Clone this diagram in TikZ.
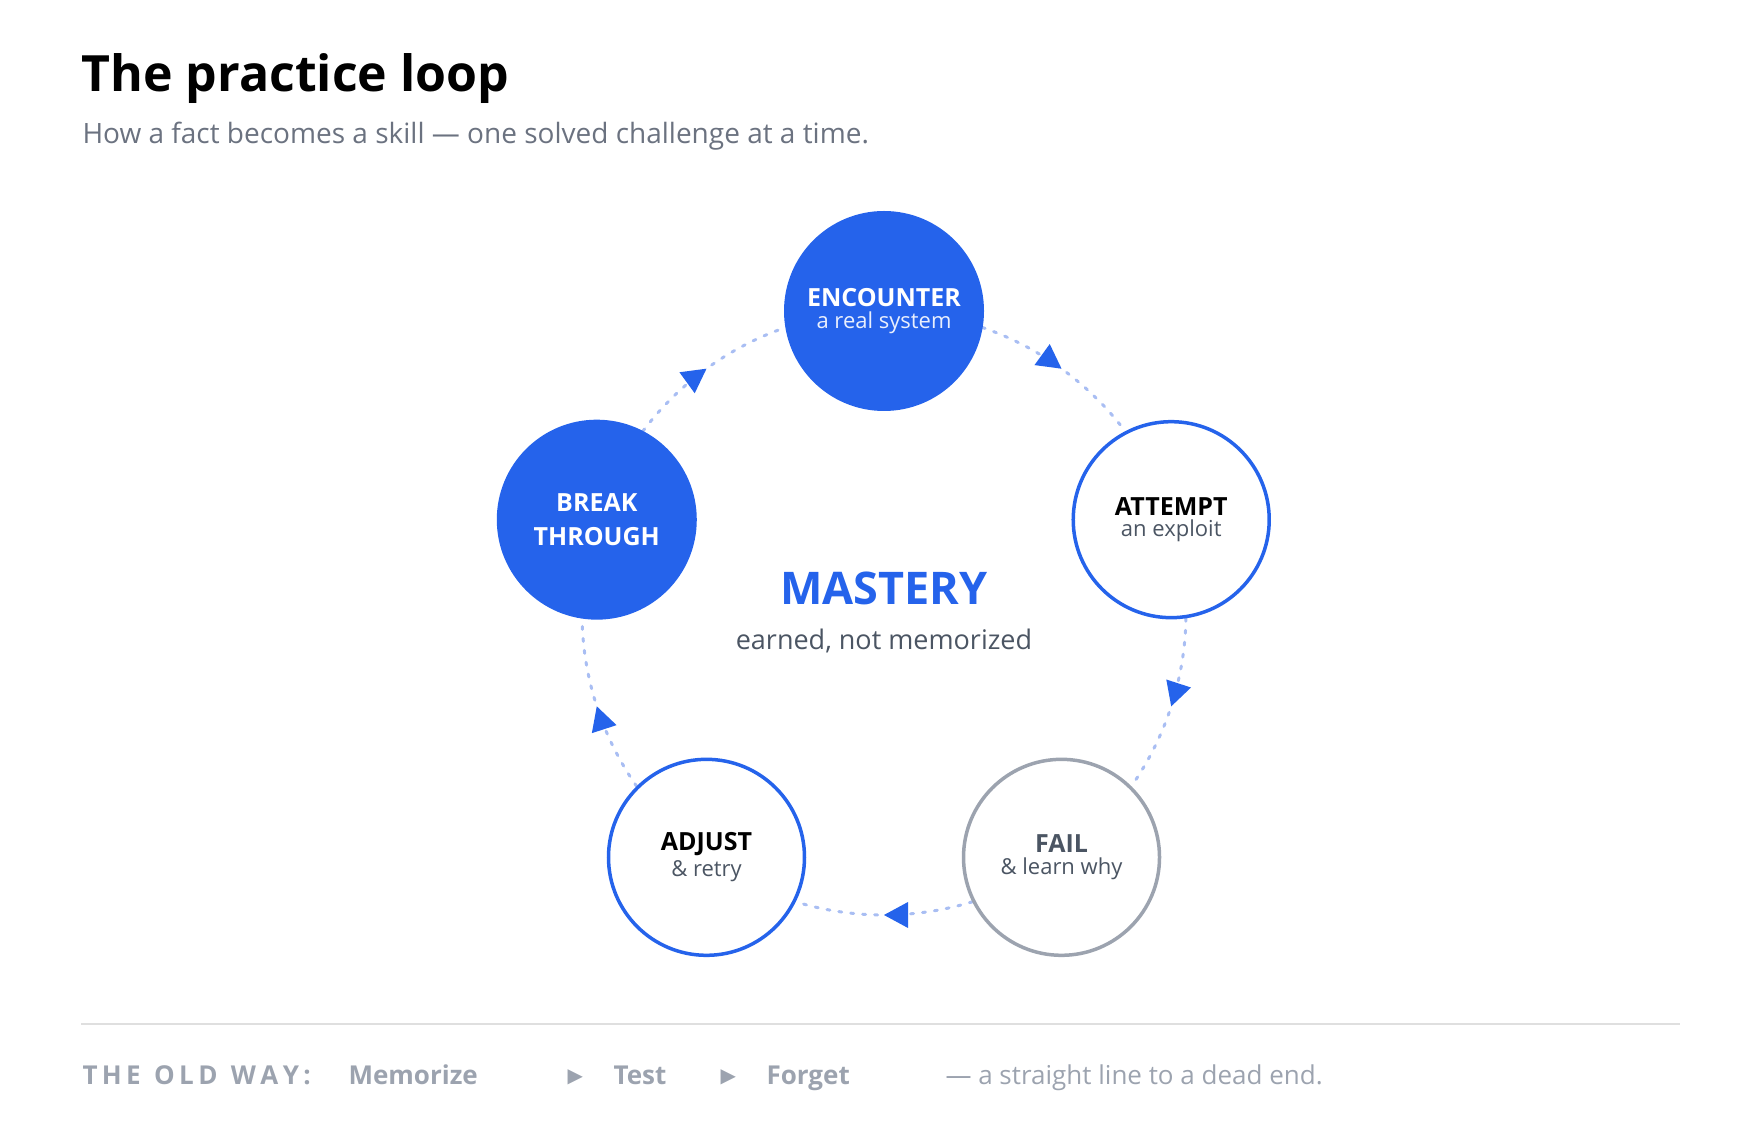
\documentclass[tikz,border=0pt]{standalone}
\usepackage{fontspec}
\setmainfont{Open Sans}
\newfontfamily\dvs{DejaVu Sans}
\usetikzlibrary{arrows.meta,decorations.markings}
\definecolor{blue}{HTML}{2563EB}
\definecolor{lightblue}{HTML}{A9BEF3}
\definecolor{gr}{HTML}{9CA3AF}
\definecolor{dg}{HTML}{4B5563}
\definecolor{sub}{HTML}{6B7280}
\begin{document}
\begin{tikzpicture}[x=1pt,y=1pt,
  filled/.style={circle,minimum size=200pt,inner sep=0pt,fill=blue,text=white,align=center},
  open/.style={circle,minimum size=196pt,inner sep=0pt,draw=blue,line width=3.5pt,fill=white,align=center},
  grey/.style={open,draw=gr},
  loop/.style={lightblue,line width=3pt,dash pattern=on 3pt off 9pt,line cap=round,
    postaction={decorate},decoration={markings,mark=at position 0.5 with {\arrow[blue,line width=0pt]{Triangle[length=24pt,width=26pt]}}}},
  foot/.style={font=\fontsize{26}{30}\selectfont\bfseries,text=gr,anchor=base west}]
\useasboundingbox (0,0) rectangle (1760,1120);
\coordinate (c) at (884,507);
\node[anchor=base west,font=\fontsize{50}{60}\selectfont\bfseries] (title) at (78,1028) {The practice loop};
\node[anchor=base west,font=\fontsize{28}{34}\selectfont,text=sub] (subt) at (79,976) {How a fact becomes a skill — one solved challenge at a time.};
% arcs
\draw[loop] ([shift={(71:302)}]c) arc[start angle=71,end angle=37,radius=302];
\draw[loop] ([shift={(-1:302)}]c) arc[start angle=-1,end angle=-35,radius=302];
\draw[loop] ([shift={(-73:302)}]c) arc[start angle=-73,end angle=-107,radius=302];
\draw[loop] ([shift={(-145:302)}]c) arc[start angle=-145,end angle=-179,radius=302];
\draw[loop] ([shift={(143:302)}]c) arc[start angle=143,end angle=109,radius=302];
\node[filled] (enc) at ([shift={(90:302)}]c) {{\bfseries\fontsize{25}{30}\selectfont ENCOUNTER}\\[4pt]{\fontsize{22}{26}\selectfont\color{white!90!blue} a real system}};
\node[open] (att) at ([shift={(18:302)}]c) {{\bfseries\fontsize{25}{30}\selectfont ATTEMPT}\\[4pt]{\fontsize{22}{26}\selectfont\color{dg} an exploit}};
\node[grey] (fail) at ([shift={(-54:302)}]c) {{\bfseries\fontsize{25}{30}\selectfont\color{dg} FAIL}\\[4pt]{\fontsize{22}{26}\selectfont\color{dg} \& learn why}};
\node[open] (adj) at ([shift={(-126:302)}]c) {{\bfseries\fontsize{25}{30}\selectfont ADJUST}\\[4pt]{\fontsize{22}{26}\selectfont\color{dg} \& retry}};
\node[filled,font=\bfseries\fontsize{25}{34}\selectfont] (brk) at ([shift={(162:302)}]c) {BREAK\\THROUGH};
\node[font=\fontsize{45}{50}\selectfont\bfseries,text=blue] (mast) at (884,532) {MASTERY};
\node[font=\fontsize{27}{32}\selectfont,text=dg] (earn) at (884,479) {earned, not memorized};
% footer
\draw[gray!25,line width=2.5pt] (81,96) -- (1680,96);
\node[foot] (ow) at (79,36) {T\,H\,E\ \ O\,L\,D\ \ W\,A\,Y\,:};
\node[foot] (m) at (345,36) {Memorize};
\node[foot,font=\dvs\fontsize{20}{24}\selectfont] (a1) at (564,38) {▶};
\node[foot] (t) at (610,36) {Test};
\node[foot,font=\dvs\fontsize{20}{24}\selectfont] (a2) at (717,38) {▶};
\node[foot] (f) at (763,36) {Forget};
\node[foot,font=\fontsize{26}{30}\selectfont] (d) at (942,36) {— a straight line to a dead end.};
\end{tikzpicture}
\end{document}
